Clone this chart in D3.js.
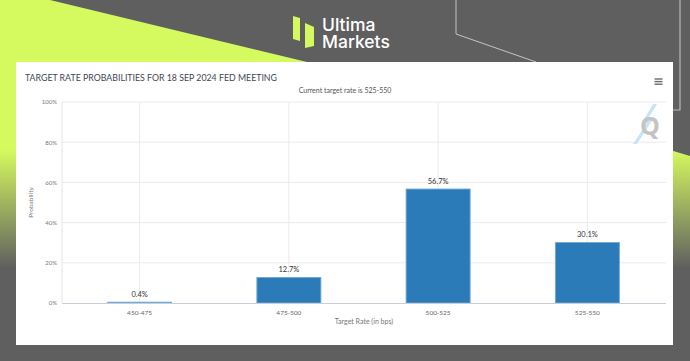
<!DOCTYPE html>
<html><head><meta charset="utf-8">
<script src="https://cdn.jsdelivr.net/npm/d3@7"></script>
<style>html,body{margin:0;padding:0;background:#5f5f5f;}svg{display:block;}</style>
</head><body>
<script>
const categories = ["450-475", "475-500", "500-525", "525-550"];
const probabilities = [0.4, 12.7, 56.7, 30.1];
const yTicks = [0, 20, 40, 60, 80, 100];
const chartTitle = "TARGET RATE PROBABILITIES FOR 18 SEP 2024 FED MEETING";
const chartSubtitle = "Current target rate is 525-550";
const yAxisTitle = "Probability";
const xAxisTitle = "Target Rate (in bps)";

const W = 690, H = 361;
const svg = d3.select("body").append("svg").attr("width", W).attr("height", H);
const defs = svg.append("defs");
const grad = defs.append("linearGradient").attr("id", "limeGrad")
  .attr("gradientUnits", "userSpaceOnUse").attr("x1", 0).attr("y1", 150).attr("x2", 0).attr("y2", 268);
grad.append("stop").attr("offset", 0).attr("stop-color", "#d4fa5f");
grad.append("stop").attr("offset", 1).attr("stop-color", "#5f5f5f");

// background
svg.append("rect").attr("width", W).attr("height", H).attr("fill", "#5f5f5f");
svg.append("path").attr("d", "M0,0 L50,0 L307,62 L16,62 L16,361 L0,361 Z").attr("fill", "url(#limeGrad)");
svg.append("path").attr("d", "M660,147 L690,156 L690,361 L660,361 Z").attr("fill", "url(#limeGrad)");
// decorative lines
svg.append("path").attr("d", "M456,0 L456,34 L536,62").attr("fill", "none").attr("stroke", "#c4c4c4").attr("stroke-width", 1);
svg.append("path").attr("d", "M680,0 L680,110 L672,110").attr("fill", "none").attr("stroke", "#b8b8b8").attr("stroke-width", 1.2);

// logo
const logo = svg.append("g");
logo.append("path").attr("d", "M293,16 L300,18 L300,41 L293,39 Z").attr("fill", "#d4fa5f");
logo.append("path").attr("d", "M305,23 L314,27 L314,46 L305,48 Z").attr("fill", "#d4fa5f");
const logoText = logo.append("text").attr("font-family", "Inter, 'Noto Sans', sans-serif")
  .attr("font-size", 17.5).attr("font-weight", 500).attr("fill", "#ffffff");
logoText.append("tspan").attr("x", 322).attr("y", 31).text("Ultima");
logoText.append("tspan").attr("x", 322).attr("y", 47.5).text("Markets");

// card
svg.append("rect").attr("x", 16).attr("y", 62).attr("width", 657).attr("height", 283).attr("fill", "#ffffff");

const font = "Lato, 'Open Sans', sans-serif";
const plot = {x0: 62, x1: 666, y0: 102, y1: 303};

const x = d3.scaleBand().domain(categories).range([65, 662]);
const y = d3.scaleLinear().domain([0, 100]).range([plot.y1, plot.y0]);

// gridlines horizontal
svg.append("g").selectAll("line").data(yTicks.filter(d => d > 0)).join("line")
  .attr("x1", plot.x0).attr("x2", plot.x1).attr("y1", d => y(d)).attr("y2", d => y(d))
  .attr("stroke", "#ebebeb").attr("stroke-width", 1);
// vertical gridlines at category centres
svg.append("g").selectAll("line").data(categories).join("line")
  .attr("x1", d => x(d) + x.bandwidth() / 2).attr("x2", d => x(d) + x.bandwidth() / 2)
  .attr("y1", plot.y0).attr("y2", plot.y1)
  .attr("stroke", "#ebebeb").attr("stroke-width", 1);
// left axis line
svg.append("line").attr("x1", plot.x0).attr("x2", plot.x0).attr("y1", plot.y0).attr("y2", plot.y1)
  .attr("stroke", "#e4e4e4").attr("stroke-width", 1);

// y axis
const yAxis = d3.axisLeft(y).tickValues(yTicks).tickFormat(d => d + "%").tickSize(0).tickPadding(5);
const yG = svg.append("g").attr("transform", `translate(${plot.x0},0)`).call(yAxis);
yG.select(".domain").remove();
yG.selectAll("text").attr("font-family", font).attr("font-size", 6).attr("fill", "#777");

// bars
const barW = 64;
svg.append("g").selectAll("rect").data(probabilities).join("rect")
  .attr("x", (d, i) => x(categories[i]) + x.bandwidth() / 2 - barW / 2)
  .attr("width", barW)
  .attr("y", d => y(d))
  .attr("height", d => y(0) - y(d))
  .attr("fill", "#2a7bb8")
  .attr("stroke", "#6ea9d8").attr("stroke-width", 0.9);

// x axis
const xAxis = d3.axisBottom(x).tickSize(0).tickPadding(7);
const xG = svg.append("g").attr("transform", `translate(0,${plot.y1})`).call(xAxis);
xG.select(".domain").remove();
xG.selectAll("text").attr("font-family", font).attr("font-size", 6.5).attr("fill", "#666");
svg.append("line").attr("x1", plot.x0).attr("x2", plot.x1).attr("y1", plot.y1 + 0.5).attr("y2", plot.y1 + 0.5)
  .attr("stroke", "#c9cfd8").attr("stroke-width", 1);

// data labels
svg.append("g").selectAll("text").data(probabilities).join("text")
  .attr("x", (d, i) => x(categories[i]) + x.bandwidth() / 2)
  .attr("y", d => y(d) - 5)
  .attr("text-anchor", "middle")
  .attr("font-family", font).attr("font-size", 7.5).attr("fill", "#333")
  .text(d => d.toFixed(1) + "%");

// titles
svg.append("text").attr("x", 25).attr("y", 81).text(chartTitle)
  .attr("font-family", font).attr("font-size", 9).attr("fill", "#3f4654")
  .attr("textLength", 252).attr("lengthAdjust", "spacingAndGlyphs");
svg.append("text").attr("x", 345).attr("y", 92.5).attr("text-anchor", "middle").text(chartSubtitle)
  .attr("font-family", font).attr("font-size", 7).attr("fill", "#555");
svg.append("text").attr("transform", `translate(33,${(plot.y0 + plot.y1) / 2}) rotate(-90)`)
  .attr("text-anchor", "middle").text(yAxisTitle)
  .attr("font-family", font).attr("font-size", 6.5).attr("fill", "#777");
svg.append("text").attr("x", (plot.x0 + plot.x1) / 2).attr("y", 324).attr("text-anchor", "middle").text(xAxisTitle)
  .attr("font-family", font).attr("font-size", 7).attr("fill", "#777");

// hamburger menu
svg.append("g").selectAll("line").data([0, 1, 2]).join("line")
  .attr("x1", 654.5).attr("x2", 662.5).attr("y1", d => 79 + d * 2.6).attr("y2", d => 79 + d * 2.6)
  .attr("stroke", "#6b6b6b").attr("stroke-width", 1.4);

// Q watermark
svg.append("path").attr("d", "M653,104 L642,123 L647,123 L633,144 L637,144 L653,119 L648,119 L657,104 Z")
  .attr("fill", "#c6e4f7");
svg.append("text").attr("x", 650).attr("y", 135).attr("text-anchor", "middle").text("Q")
  .attr("font-family", "'Open Sans', sans-serif").attr("font-weight", 700).attr("font-size", 25).attr("fill", "#c4c4c4");
</script>
</body></html>
